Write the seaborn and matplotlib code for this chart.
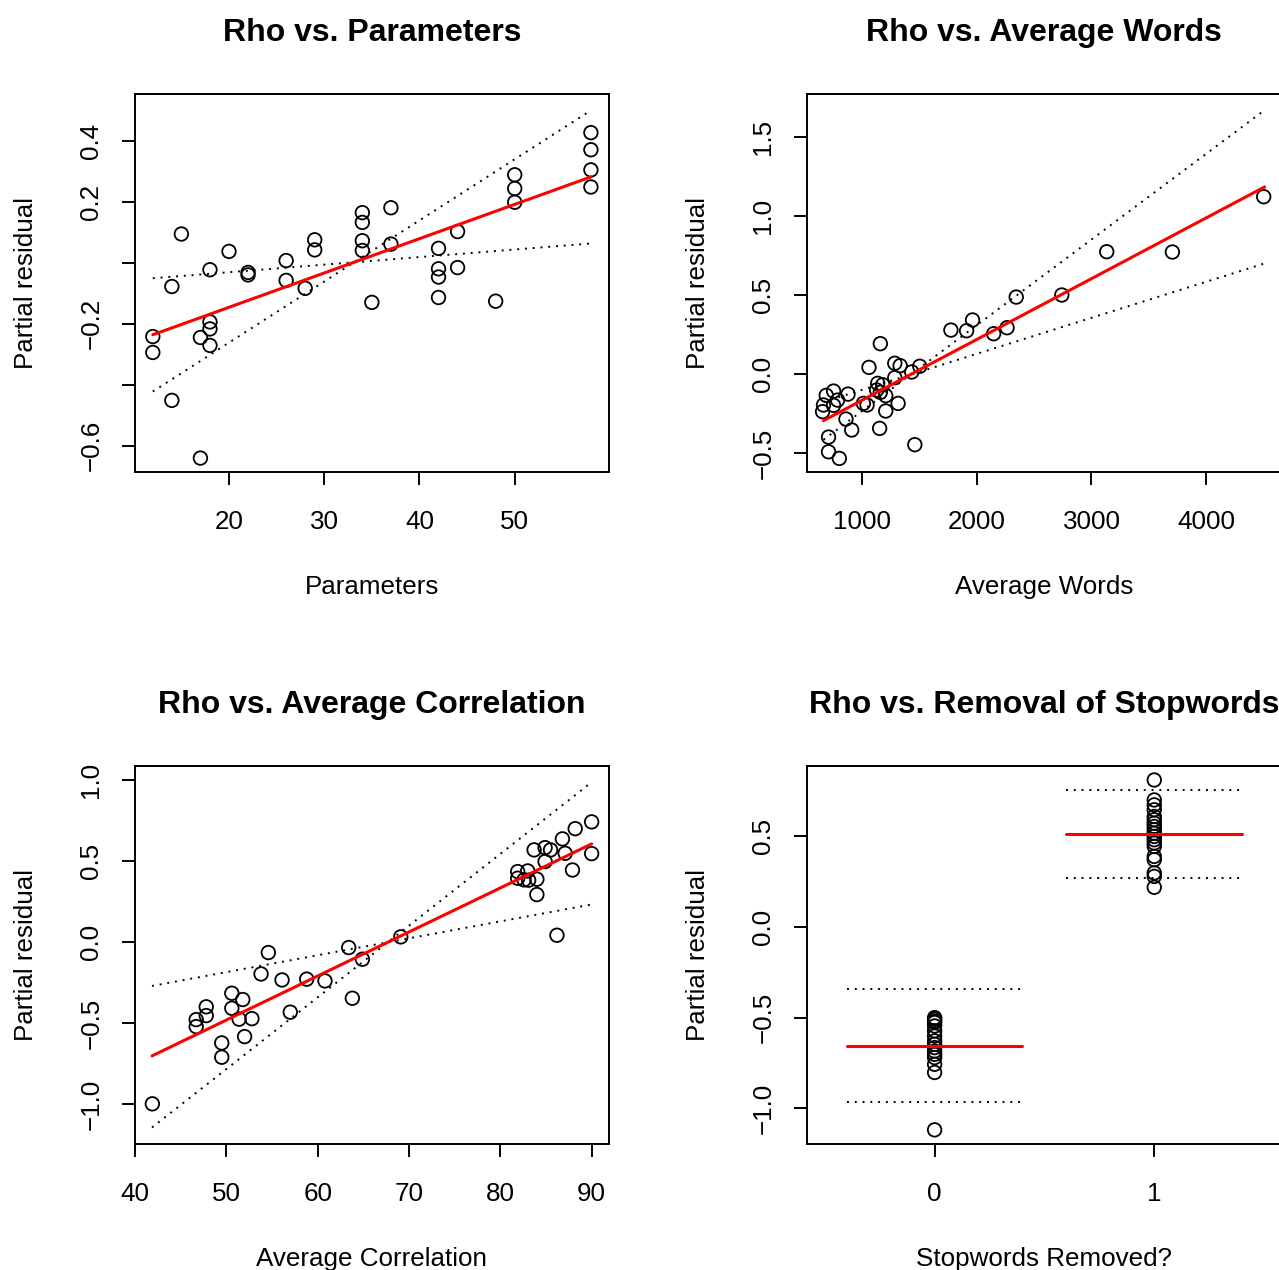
import matplotlib
matplotlib.use("Agg")
import matplotlib.pyplot as plt
import seaborn as sns

# ---------------------------------------------------------------------------
# data (partial residuals, fitted term, +-2 SE bands)
# ---------------------------------------------------------------------------
param_x = [12, 12, 14, 14, 15, 17, 17, 18, 18, 18, 18, 20, 22, 22, 26, 26, 28,
           29, 29, 34, 34, 34, 34, 35, 37, 37, 42, 42, 42, 42, 44, 44, 48, 50,
           50, 50, 58, 58, 58, 58]
param_y = [-0.242, -0.294, -0.078, -0.451, 0.094, -0.245, -0.640, -0.023,
           -0.194, -0.217, -0.271, 0.037, -0.032, -0.040, 0.007, -0.058,
           -0.084, 0.075, 0.042, 0.164, 0.132, 0.072, 0.040, -0.130, 0.180,
           0.061, 0.047, -0.020, -0.047, -0.114, 0.102, -0.016, -0.126, 0.288,
           0.243, 0.198, 0.426, 0.370, 0.304, 0.248]
param_fit = ([12, 58], [-0.236, 0.281])
param_band_a = ([12, 58], [-0.422, 0.499])
param_band_b = ([12, 58], [-0.051, 0.063])

words_x = [4503, 3133, 3706, 2741, 2343, 1962, 1773, 1910, 2146, 2263, 1157,
           1058, 1283, 1330, 1501, 1431, 1283, 1134, 1178, 1125, 1157, 1204,
           1312, 1204, 1009, 1041, 875, 749, 685, 784, 749, 661, 653, 857, 907,
           1151, 705, 705, 799, 1458]
words_y = [1.122, 0.774, 0.772, 0.500, 0.487, 0.342, 0.278, 0.274, 0.255,
           0.293, 0.192, 0.042, 0.068, 0.053, 0.049, 0.013, -0.023, -0.059,
           -0.068, -0.101, -0.116, -0.137, -0.186, -0.234, -0.186, -0.196,
           -0.127, -0.108, -0.135, -0.165, -0.198, -0.196, -0.238, -0.285,
           -0.354, -0.344, -0.399, -0.492, -0.534, -0.447]
words_fit = ([661, 4511], [-0.295, 1.184])
words_band_a = ([661, 4511], [-0.416, 1.670])
words_band_b = ([661, 4511], [-0.177, 0.700])

corr_x = [41.9, 46.7, 46.7, 47.8, 47.8, 49.5, 49.5, 50.6, 50.6, 51.4, 51.8,
          52.0, 52.8, 53.8, 54.6, 56.1, 57.0, 58.8, 60.8, 63.4, 63.8, 64.9,
          69.1, 81.9, 81.9, 83.0, 82.6, 83.1, 84.0, 84.0, 83.7, 84.9, 85.5,
          84.9, 86.8, 87.1, 87.9, 88.2, 90.0, 90.0, 86.2]
corr_y = [-0.998, -0.478, -0.521, -0.399, -0.453, -0.622, -0.710, -0.315,
          -0.408, -0.475, -0.354, -0.583, -0.472, -0.196, -0.064, -0.233,
          -0.432, -0.228, -0.239, -0.033, -0.346, -0.105, 0.033, 0.436, 0.395,
          0.440, 0.385, 0.383, 0.389, 0.294, 0.570, 0.584, 0.570, 0.498, 0.638,
          0.549, 0.446, 0.701, 0.743, 0.547, 0.043]
corr_fit = ([41.86, 90.0], [-0.702, 0.607])
corr_band_a = ([41.86, 90.0], [-1.144, 0.988])
corr_band_b = ([41.86, 90.0], [-0.270, 0.233])

stop_levels = [0, 1]
stop_x = [0] * 16 + [1] * 19
stop_y = [-0.500, -0.509, -0.519, -0.527, -0.546, -0.573, -0.601, -0.628,
          -0.647, -0.665, -0.684, -0.702, -0.720, -0.757, -0.802, -1.118,
          0.809, 0.699, 0.672, 0.645, 0.608, 0.590, 0.571, 0.553, 0.535, 0.516,
          0.498, 0.480, 0.462, 0.443, 0.388, 0.370, 0.297, 0.278, 0.218]
stop_fit = [-0.656, 0.514]
stop_upper = [-0.345, 0.756]
stop_lower = [-0.967, 0.271]

# ---------------------------------------------------------------------------
sns.set_style("ticks")
plt.rcParams["font.family"] = ["Liberation Sans", "DejaVu Sans"]
plt.rcParams["text.color"] = "black"
plt.rcParams["axes.labelcolor"] = "black"

W, H = 1279, 1270
fig = plt.figure(figsize=(W / 100, H / 100), dpi=100)

LW = 1.4
DOT = (0, (1, 3))
FS = 18.7
TFS = 23


def add_axes(left, top, width=474, height=378):
    ax = fig.add_axes([left / W, 1 - (top + height) / H, width / W, height / H])
    for sp in ax.spines.values():
        sp.set_visible(True)
        sp.set_color("black")
        sp.set_linewidth(LW)
    ax.tick_params(direction="out", length=9.7, width=LW, color="black",
                   labelsize=FS, labelcolor="black")
    ax.tick_params(axis="x", pad=18)
    ax.tick_params(axis="y", pad=13, labelrotation=90)
    ax.grid(False)
    return ax


def style(ax, title, xlabel):
    ax.set_title(title, fontsize=TFS, fontweight="bold", pad=38.5, color="black")
    ax.set_xlabel(xlabel, fontsize=FS)
    ax.set_ylabel("Partial residual", fontsize=FS)
    ax.xaxis.set_label_coords(0.5, -0.272)
    ax.yaxis.set_label_coords(-0.205, 0.5)
    for lab in ax.get_yticklabels():
        lab.set_va("center")


def points(ax, x, y):
    sns.scatterplot(x=x, y=y, ax=ax, s=95, marker="o", facecolor="none",
                    edgecolor="black", linewidth=1.3, zorder=3)


def term(ax, fit, band_a, band_b):
    ax.plot(*fit, color="red", lw=2.2, zorder=4)
    ax.plot(*band_a, color="black", lw=LW, linestyle=DOT)
    ax.plot(*band_b, color="black", lw=LW, linestyle=DOT)


# 1. Parameters
ax = add_axes(135, 94)
points(ax, param_x, param_y)
term(ax, param_fit, param_band_a, param_band_b)
ax.set_xlim(10.13, 59.9)
ax.set_ylim(-0.6856, 0.5526)
ax.set_xticks([20, 30, 40, 50])
ax.set_yticks([-0.6, -0.4, -0.2, 0.0, 0.2, 0.4])
ax.set_yticklabels(["\u22120.6", "", "\u22120.2", "", "0.2", "0.4"])
style(ax, "Rho vs. Parameters", "Parameters")

# 2. Average words
ax = add_axes(807, 94)
points(ax, words_x, words_y)
term(ax, words_fit, words_band_a, words_band_b)
ax.set_xlim(517, 4654)
ax.set_ylim(-0.620, 1.772)
ax.set_xticks([1000, 2000, 3000, 4000])
ax.set_yticks([-0.5, 0.0, 0.5, 1.0, 1.5])
ax.set_yticklabels(["\u22120.5", "0.0", "0.5", "1.0", "1.5"])
style(ax, "Rho vs. Average Words", "Average Words")

# 3. Average correlation
ax = add_axes(135, 766)
points(ax, corr_x, corr_y)
term(ax, corr_fit, corr_band_a, corr_band_b)
ax.set_xlim(40.0, 91.9)
ax.set_ylim(-1.246, 1.088)
ax.set_xticks([40, 50, 60, 70, 80, 90])
ax.set_yticks([-1.0, -0.5, 0.0, 0.5, 1.0])
ax.set_yticklabels(["\u22121.0", "\u22120.5", "0.0", "0.5", "1.0"])
style(ax, "Rho vs. Average Correlation", "Average Correlation")

# 4. Stopwords removed (factor term)
ax = add_axes(807, 766)
points(ax, stop_x, stop_y)
for lev, f, up, lo in zip(stop_levels, stop_fit, stop_upper, stop_lower):
    ax.plot([lev - 0.4, lev + 0.4], [f, f], color="red", lw=2.2, zorder=4)
    ax.plot([lev - 0.4, lev + 0.4], [up, up], color="black", lw=LW, linestyle=DOT)
    ax.plot([lev - 0.4, lev + 0.4], [lo, lo], color="black", lw=LW, linestyle=DOT)
ax.set_xlim(-0.581, 1.577)
ax.set_ylim(-1.196, 0.886)
ax.set_xticks(stop_levels)
ax.set_xticklabels([str(v) for v in stop_levels])
ax.set_yticks([-1.0, -0.5, 0.0, 0.5])
ax.set_yticklabels(["\u22121.0", "\u22120.5", "0.0", "0.5"])
style(ax, "Rho vs. Removal of Stopwords", "Stopwords Removed?")

fig.savefig("out.png", dpi=100, facecolor="white")
